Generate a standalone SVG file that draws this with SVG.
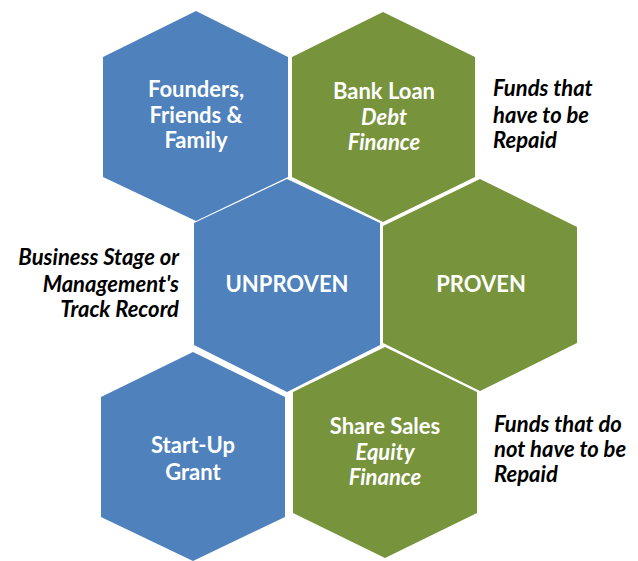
<svg xmlns="http://www.w3.org/2000/svg" width="638" height="561" viewBox="0 0 638 561">
  <style>
    .blue { fill: #4F81BD; }
    .green { fill: #77933C; }
    .lbl { font-family: "Lato", "Open Sans", "Liberation Sans", sans-serif; font-weight: bold; font-size: 22px; fill: #FFFFFF; text-anchor: middle; }
    .lbl .it { font-style: italic; }
    .note { font-family: "Lato", "Open Sans", "Liberation Sans", sans-serif; font-weight: bold; font-style: italic; font-size: 22px; fill: #000000; }
  </style>
  <rect width="638" height="561" fill="#FFFFFF"/>

  <g id="founders">
    <polygon class="blue" points="196,11 288,57 288,177 196,221 103,177 103,57"/>
    <text class="lbl"><tspan x="196" y="97">Founders,</tspan><tspan x="196" y="123">Friends &amp;</tspan><tspan x="196" y="148">Family</tspan></text>
  </g>

  <g id="bank-loan">
    <polygon class="green" points="383,12 475,57 475,177 383,222 292,177 292,57"/>
    <text class="lbl"><tspan x="384" y="99">Bank Loan</tspan><tspan class="it" x="384" y="125">Debt</tspan><tspan class="it" x="384" y="150">Finance</tspan></text>
  </g>

  <g id="unproven">
    <polygon class="blue" points="287,179 380,223 380,345 287,392 194,345 194,223"/>
    <text class="lbl" x="287" y="292">UNPROVEN</text>
  </g>

  <g id="proven">
    <polygon class="green" points="480,179 577,227 577,343 480,391 383,343 383,226"/>
    <text class="lbl" x="481" y="292">PROVEN</text>
  </g>

  <g id="start-up">
    <polygon class="blue" points="193,352 285,397 285,517 193,561 101,517 101,397"/>
    <text class="lbl"><tspan x="193" y="453">Start-Up</tspan><tspan x="193" y="480">Grant</tspan></text>
  </g>

  <g id="share-sales">
    <polygon class="green" points="385,347 477,392 477,513 385,558 293,513 293,392"/>
    <text class="lbl"><tspan x="385" y="434">Share Sales</tspan><tspan class="it" x="385" y="460">Equity</tspan><tspan class="it" x="385" y="485">Finance</tspan></text>
  </g>

  <g id="notes">
    <text class="note"><tspan x="493" y="96">Funds that</tspan><tspan x="493" y="123">have to be</tspan><tspan x="493" y="148">Repaid</tspan></text>
    <text class="note" text-anchor="end"><tspan x="179" y="265">Business Stage or</tspan><tspan x="179" y="292">Management's</tspan><tspan x="179" y="317">Track Record</tspan></text>
    <text class="note"><tspan x="494" y="432">Funds that do</tspan><tspan x="494" y="457">not have to be</tspan><tspan x="494" y="482">Repaid</tspan></text>
  </g>

  <g id="connectors"/>
</svg>
